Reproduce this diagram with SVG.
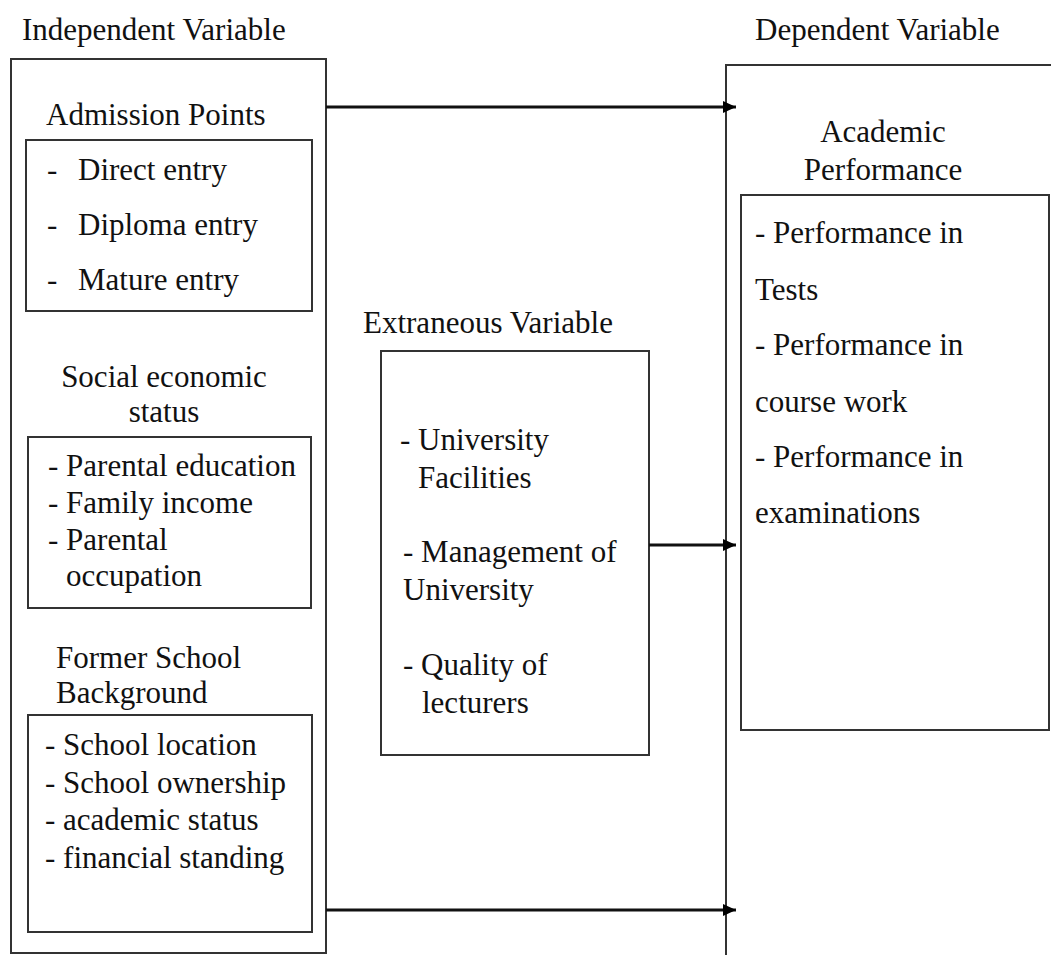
<svg xmlns="http://www.w3.org/2000/svg" width="1051" height="955" viewBox="0 0 1051 955">
<style>
text{font-family:"Liberation Serif","Times New Roman",serif;font-size:31px;fill:#111}
.box{fill:none;stroke:#333;stroke-width:2}
.c{text-anchor:middle}
.ln{stroke:#111;stroke-width:3;fill:none}
</style>
<defs>
<marker id="ah" markerWidth="14" markerHeight="14" refX="13" refY="7" orient="auto" markerUnits="userSpaceOnUse">
<path d="M0,1 L13,7 L0,13 Z" fill="#000"/>
</marker>
</defs>
<rect width="1051" height="955" fill="#fff"/>
<g id="independent">
<text x="22" y="40">Independent Variable</text>
<rect class="box" x="11" y="59" width="315" height="894"/>
</g>
<g id="admission">
<text x="46" y="125">Admission Points</text>
<rect class="box" x="26" y="140" width="286" height="171"/>
<text x="47" y="180">-</text><text x="78" y="180">Direct entry</text>
<text x="47" y="235">-</text><text x="78" y="235">Diploma entry</text>
<text x="47" y="290">-</text><text x="78" y="290">Mature entry</text>
</g>
<g id="social">
<text class="c" x="164" y="387">Social economic</text>
<text class="c" x="164" y="422">status</text>
<rect class="box" x="28" y="437" width="283" height="171"/>
<text x="48" y="476">- Parental education</text>
<text x="48" y="513">- Family income</text>
<text x="48" y="550">- Parental</text>
<text x="66" y="586">occupation</text>
</g>
<g id="former">
<text x="56" y="668">Former School</text>
<text x="56" y="703">Background</text>
<rect class="box" x="28" y="715" width="284" height="217"/>
<text x="45" y="755">- School location</text>
<text x="45" y="793">- School ownership</text>
<text x="45" y="830">- academic status</text>
<text x="45" y="868">- financial standing</text>
</g>
<g id="extraneous">
<text x="363" y="333">Extraneous Variable</text>
<rect class="box" x="381" y="351" width="268" height="404"/>
<text x="400" y="450">- University</text>
<text x="418" y="488">Facilities</text>
<text x="403" y="562">- Management of</text>
<text x="403" y="600">University</text>
<text x="403" y="675">- Quality of</text>
<text x="422" y="713">lecturers</text>
</g>
<g id="dependent">
<text x="755" y="40">Dependent Variable</text>
<rect class="box" x="726" y="65" width="340" height="900"/>
<text class="c" x="883" y="142">Academic</text>
<text class="c" x="883" y="180">Performance</text>
<rect class="box" x="741" y="195" width="308" height="535"/>
<text x="755" y="243">- Performance in</text>
<text x="755" y="300">Tests</text>
<text x="755" y="355">- Performance in</text>
<text x="755" y="412">course work</text>
<text x="755" y="467">- Performance in</text>
<text x="755" y="523">examinations</text>
</g>
<g id="connectors">
<line class="ln" x1="326" y1="107" x2="736" y2="107" marker-end="url(#ah)"/>
<line class="ln" x1="649" y1="545" x2="736" y2="545" marker-end="url(#ah)"/>
<line class="ln" x1="326" y1="910" x2="736" y2="910" marker-end="url(#ah)"/>
</g>
</svg>
